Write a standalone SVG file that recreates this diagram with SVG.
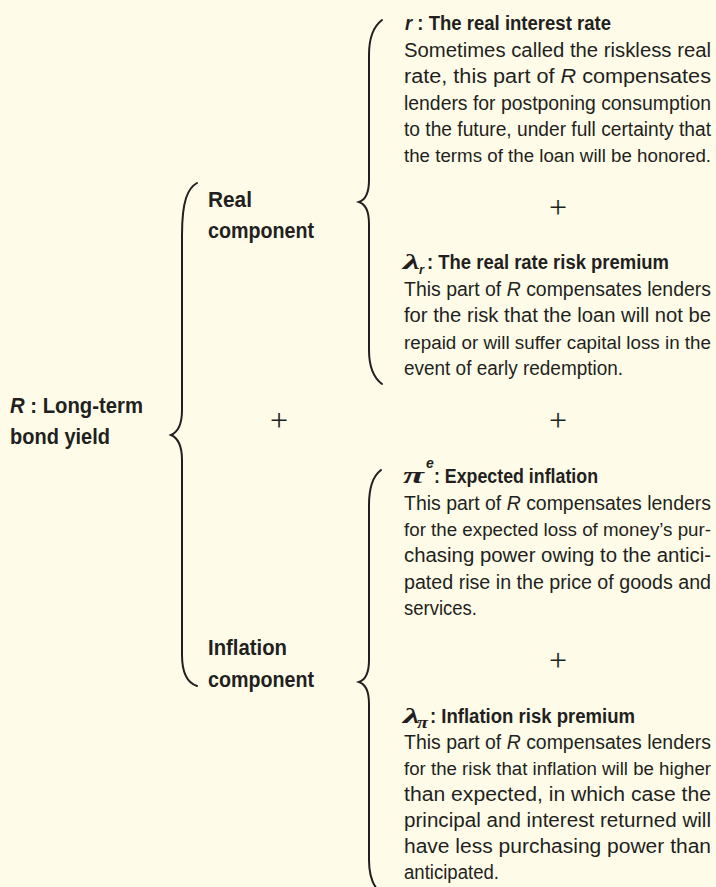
<svg xmlns="http://www.w3.org/2000/svg" width="716" height="887" viewBox="0 0 716 887">
<defs>
<style>
.t{font-family:"Liberation Sans",Arial,sans-serif;font-size:19.5px;fill:#231f20}
.b{font-family:"Liberation Sans",Arial,sans-serif;font-size:19.5px;font-weight:bold;fill:#231f20}
.l{font-family:"Liberation Sans",Arial,sans-serif;font-size:22px;font-weight:bold;fill:#231f20}
.n{font-size:18.8px}
.i{font-style:italic}
.g{font-family:"Liberation Serif","Times New Roman",serif;font-weight:bold;font-style:italic;fill:#231f20}
.s{font-family:"Liberation Sans",Arial,sans-serif;font-weight:bold;font-style:italic;fill:#231f20}
.p{font-family:"Liberation Serif","Times New Roman",serif;font-size:32px;fill:#231f20;text-anchor:middle}
.br{fill:none;stroke:#231f20;stroke-width:2;stroke-linecap:round;stroke-linejoin:miter}
</style>
</defs>
<rect x="0" y="0" width="716" height="887" fill="#fefce9"/>

<g id="connectors">
  <path class="br" d="M197,183 C188,188 182,200 182,235 L182,410 C182,425 178,432 171,435 C178,438 182,445 182,460 L182,655 C182,675 188,683 197,686"/>
  <path class="br" d="M382,20 C374,26 369,36 369,55 L369,180 C369,194 365,200 359,202 C365,204 369,210 369,224 L369,350 C369,368 374,378 382,384"/>
  <path class="br" d="M381,470 C373,476 369,486 369,505 L369,660 C369,674 365,680 359,682 C365,684 369,690 369,704 L369,860 C369,878 374,888 382,894"/>
</g>

<g id="operators">
  <text class="p" x="558" y="218">+</text>
  <text class="p" x="558" y="431">+</text>
  <text class="p" x="279" y="431">+</text>
  <text class="p" x="558" y="671">+</text>
</g>

<g id="node-R">
  <text class="l" x="10" y="413" textLength="133" lengthAdjust="spacingAndGlyphs"><tspan class="i">R</tspan> : Long-term</text>
  <text class="l" x="10" y="444" textLength="100" lengthAdjust="spacingAndGlyphs">bond yield</text>
</g>

<g id="node-real">
  <text class="l" x="208" y="207" textLength="44" lengthAdjust="spacingAndGlyphs">Real</text>
  <text class="l" x="208" y="238" textLength="106" lengthAdjust="spacingAndGlyphs">component</text>
</g>

<g id="node-inflation">
  <text class="l" x="208" y="655" textLength="79" lengthAdjust="spacingAndGlyphs">Inflation</text>
  <text class="l" x="208" y="687" textLength="106" lengthAdjust="spacingAndGlyphs">component</text>
</g>

<g id="node-r">
  <text class="b" x="405" y="30" textLength="206" lengthAdjust="spacingAndGlyphs"><tspan class="i">r</tspan> : The real interest rate</text>
  <text class="t" x="404" y="57" textLength="307" lengthAdjust="spacingAndGlyphs">Sometimes called the riskless real</text>
  <text class="t" x="404" y="83" textLength="307" lengthAdjust="spacingAndGlyphs">rate, this part of <tspan class="i">R</tspan> compensates</text>
  <text class="t" x="404" y="110" textLength="307" lengthAdjust="spacingAndGlyphs">lenders for postponing consumption</text>
  <text class="t" x="404" y="136" textLength="307" lengthAdjust="spacingAndGlyphs">to the future, under full certainty that</text>
  <text class="t n" x="404" y="162" textLength="307" lengthAdjust="spacingAndGlyphs">the terms of the loan will be honored.</text>
</g>

<g id="node-lambda-r">
  <text class="g" x="403" y="269" font-size="22" textLength="17" lengthAdjust="spacingAndGlyphs">λ</text>
  <text class="s" x="419" y="274" font-size="13">r</text>
  <text class="b" x="427" y="269" textLength="242" lengthAdjust="spacingAndGlyphs">: The real rate risk premium</text>
  <text class="t" x="404" y="296" textLength="307" lengthAdjust="spacingAndGlyphs">This part of <tspan class="i">R</tspan> compensates lenders</text>
  <text class="t" x="404" y="322" textLength="307" lengthAdjust="spacingAndGlyphs">for the risk that the loan will not be</text>
  <text class="t n" x="404" y="349" textLength="307" lengthAdjust="spacingAndGlyphs">repaid or will suffer capital loss in the</text>
  <text class="t" x="404" y="375" textLength="219" lengthAdjust="spacingAndGlyphs">event of early redemption.</text>
</g>

<g id="node-pi-e">
  <text class="g" x="403" y="483" font-size="24" textLength="21" lengthAdjust="spacingAndGlyphs">π</text>
  <text class="s" x="426" y="468" font-size="14">e</text>
  <text class="b" x="434" y="483" textLength="164" lengthAdjust="spacingAndGlyphs">: Expected inflation</text>
  <text class="t" x="404" y="510" textLength="307" lengthAdjust="spacingAndGlyphs">This part of <tspan class="i">R</tspan> compensates lenders</text>
  <text class="t n" x="404" y="536" textLength="307" lengthAdjust="spacingAndGlyphs">for the expected loss of money’s pur-</text>
  <text class="t" x="404" y="562" textLength="307" lengthAdjust="spacingAndGlyphs">chasing power owing to the antici-</text>
  <text class="t" x="404" y="589" textLength="307" lengthAdjust="spacingAndGlyphs">pated rise in the price of goods and</text>
  <text class="t" x="404" y="615" textLength="73" lengthAdjust="spacingAndGlyphs">services.</text>
</g>

<g id="node-lambda-pi">
  <text class="g" x="403" y="723" font-size="22" textLength="17" lengthAdjust="spacingAndGlyphs">λ</text>
  <text class="g" x="417" y="728" font-size="16" textLength="11" lengthAdjust="spacingAndGlyphs">π</text>
  <text class="b" x="430" y="723" textLength="205" lengthAdjust="spacingAndGlyphs">: Inflation risk premium</text>
  <text class="t" x="404" y="749" textLength="307" lengthAdjust="spacingAndGlyphs">This part of <tspan class="i">R</tspan> compensates lenders</text>
  <text class="t n" x="404" y="775" textLength="307" lengthAdjust="spacingAndGlyphs">for the risk that inflation will be higher</text>
  <text class="t" x="404" y="801" textLength="307" lengthAdjust="spacingAndGlyphs">than expected, in which case the</text>
  <text class="t" x="404" y="827" textLength="307" lengthAdjust="spacingAndGlyphs">principal and interest returned will</text>
  <text class="t" x="404" y="853" textLength="307" lengthAdjust="spacingAndGlyphs">have less purchasing power than</text>
  <text class="t" x="404" y="879" textLength="95" lengthAdjust="spacingAndGlyphs">anticipated.</text>
</g>
</svg>
